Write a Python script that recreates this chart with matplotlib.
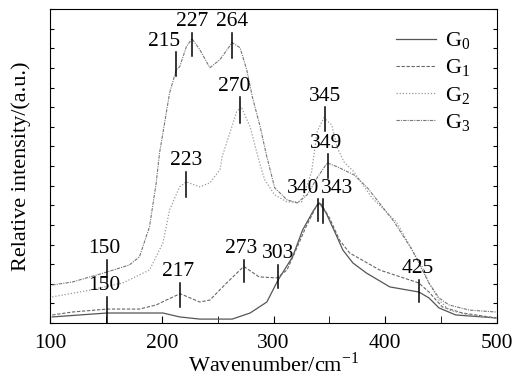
import numpy as np
import matplotlib
matplotlib.use("Agg")
from matplotlib import pyplot as plt
from matplotlib.ticker import MultipleLocator

plt.rcParams['font.family'] = ['Liberation Serif', 'DejaVu Serif']
plt.rcParams['mathtext.fontset'] = 'custom'
plt.rcParams['mathtext.rm'] = 'Liberation Serif'

# spectra (wavenumber, relative intensity)
g0_x = [102, 151, 201, 216, 234, 263, 279, 294, 304, 317, 326, 335, 339, 341, 347, 356,
        362, 371, 383, 404, 430, 439, 448, 463, 499]
g0_y = [0.31, 0.51, 0.51, 0.31, 0.20, 0.20, 0.51, 1.07, 2.19, 3.37, 4.74, 5.66, 6.02, 6.12,
        5.61, 4.49, 3.72, 3.06, 2.55, 1.84, 1.58, 1.28, 0.77, 0.41, 0.26]

g1_x = [102, 120, 151, 180, 195, 204, 214, 217, 234, 243, 258, 272, 274, 287, 303, 312,
        320, 329, 338, 342, 350, 359, 368, 395, 430, 439, 451, 469, 499]
g1_y = [0.41, 0.56, 0.71, 0.71, 0.92, 1.17, 1.43, 1.48, 1.07, 1.17, 2.04, 2.81, 2.86, 2.35,
        2.30, 2.70, 3.72, 4.90, 5.92, 6.12, 5.36, 4.23, 3.57, 2.70, 2.04, 1.58, 0.82, 0.51, 0.26]

g2_x = [102, 136, 165, 189, 201, 207, 216, 222, 234, 243, 252, 254, 267, 271, 279, 286,
        292, 301, 312, 325, 334, 339, 345, 352, 357, 363, 372, 388, 410, 424, 433, 439,
        448, 457, 475, 499]
g2_y = [1.33, 1.68, 2.04, 2.70, 4.08, 5.77, 6.94, 7.19, 6.94, 7.14, 7.81, 8.47, 10.77, 11.02,
        10.0, 8.47, 7.30, 6.53, 6.17, 6.17, 7.70, 9.74, 10.46, 10.10, 8.93, 8.21, 7.70, 6.38,
        5.15, 3.72, 2.86, 2.04, 1.17, 0.66, 0.40, 0.26]

g3_x = [102, 120, 151, 171, 180, 189, 195, 198, 203, 207, 213, 216, 222, 227, 234, 243,
        252, 263, 270, 276, 281, 288, 294, 301, 312, 321, 330, 339, 348, 357, 372, 384,
        396, 408, 424, 439, 448, 457, 475, 499]
g3_y = [1.94, 2.09, 2.60, 2.96, 3.37, 4.90, 7.14, 8.67, 10.36, 11.73, 12.91, 13.06, 14.08,
        14.49, 13.93, 13.01, 13.42, 14.29, 14.03, 12.91, 11.53, 10.0, 8.47, 6.89, 6.28, 6.12,
        6.53, 7.40, 8.16, 7.96, 7.55, 6.89, 6.02, 5.15, 3.72, 2.04, 1.28, 0.92, 0.66, 0.56]

# peak labels: text, marker x, label x, bottom and top of marker line
peak_text = ['150', '150', '217', '223', '215', '227', '264', '270', '345', '349',
             '340', '343', '273', '303', '425']
peak_x = [151, 151, 216, 222, 213, 227, 263, 270, 346, 349, 340, 344, 274, 304, 430]
label_x = [149, 149, 215, 222, 202, 227, 263, 265, 346, 347, 326, 357, 271, 304, 429]
peak_lo = [0.0, 2.09, 0.82, 6.43, 12.6, 13.6, 13.5, 10.2, 9.8, 7.4, 5.2, 5.1, 2.09, 1.79, 1.07]
peak_hi = [1.33, 3.21, 2.04, 7.70, 13.8, 14.8, 14.8, 11.5, 11.0, 8.6, 6.3, 6.3, 3.21, 2.96, 2.19]

fig = plt.figure(figsize=(5.13, 3.77), dpi=100)
ax = fig.add_axes([0.0975, 0.1432, 0.8715, 0.8328])

ax.plot(g0_x, g0_y, color='#555555', lw=0.9, ls='-', label='G$_0$')
ax.plot(g1_x, g1_y, color='#666666', lw=0.8, ls=(0, (3, 1.5)), label='G$_1$')
ax.plot(g2_x, g2_y, color='#9a9a9a', lw=0.9, ls=(0, (1, 1.5)), label='G$_2$')
ax.plot(g3_x, g3_y, color='#777777', lw=0.8, ls=(0, (3, 1, 1, 1)), label='G$_3$')

for t, x, lx, lo, hi in zip(peak_text, peak_x, label_x, peak_lo, peak_hi):
    ax.plot([x, x], [lo, hi], color='black', lw=1.1)
    ax.text(lx, hi + 0.08, t, ha='center', va='bottom', fontsize=15.5)

ax.set_xlim(100, 500)
ax.set_ylim(0, 16)
ax.xaxis.set_major_locator(MultipleLocator(100))
ax.xaxis.set_minor_locator(MultipleLocator(50))
ax.yaxis.set_major_locator(MultipleLocator(1))
ax.tick_params(axis='x', which='both', direction='in', length=5, labelsize=15.5, pad=8)
ax.tick_params(axis='y', which='both', direction='in', length=3, left=True, right=True,
               labelleft=False)
ax.set_xlabel('Wavenumber/cm$^{-1}$', fontsize=16, labelpad=-1)
ax.set_ylabel('Relative intensity/(a.u.)', fontsize=16, labelpad=14)

ax.legend(loc='upper right', frameon=False, fontsize=16, handlelength=1.8,
          handletextpad=0.4, labelspacing=0.25, bbox_to_anchor=(0.985, 0.995))

fig.savefig('out.png', dpi=100)
